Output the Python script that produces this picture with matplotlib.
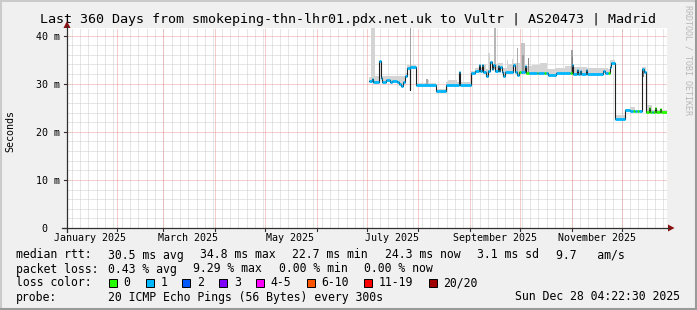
import numpy as np
import pandas as pd
import matplotlib
matplotlib.use("Agg")
import matplotlib.pyplot as plt
import matplotlib.dates as mdates
import matplotlib.transforms as mtransforms
from matplotlib.lines import Line2D
from matplotlib.patches import Polygon, Rectangle

W, H = 697, 310
MONO = "DejaVu Sans Mono"

# ---------------- data ----------------
end_time = pd.Timestamp("2025-12-28 04:22:30")
start_time = end_time - pd.Timedelta(days=360)

# median rtt (ms), each value holds until the next date
median_dates = [
    "2025-07-02 10:00", "2025-07-04 05:00", "2025-07-05 00:00", "2025-07-08 14:00",
    "2025-07-09 10:00", "2025-07-10 05:00", "2025-07-12 14:00", "2025-07-15 00:00",
    "2025-07-16 00:00", "2025-07-19 00:00", "2025-07-20 14:00", "2025-07-21 19:00",
    "2025-07-23 00:00", "2025-07-24 00:00", "2025-07-25 00:00", "2025-07-26 19:00",
    "2025-07-27 05:00", "2025-07-30 10:00", "2025-08-11 14:00", "2025-08-17 14:00",
    "2025-08-25 10:00", "2025-08-26 05:00", "2025-09-01 10:00", "2025-09-04 00:00",
    "2025-09-06 10:00", "2025-09-07 00:00", "2025-09-08 00:00", "2025-09-08 19:00",
    "2025-09-10 14:00", "2025-09-12 00:00", "2025-09-13 05:00", "2025-09-14 05:00",
    "2025-09-15 00:00", "2025-09-15 19:00", "2025-09-17 19:00", "2025-09-18 14:00",
    "2025-09-19 05:00", "2025-09-20 00:00", "2025-09-21 00:00", "2025-09-22 00:00",
    "2025-09-27 00:00", "2025-09-27 19:00", "2025-09-29 00:00", "2025-09-30 05:00",
    "2025-09-30 14:00", "2025-10-01 12:00", "2025-10-04 00:00", "2025-10-04 19:00",
    "2025-10-06 12:00", "2025-10-11 00:00", "2025-10-12 00:00", "2025-10-15 12:00",
    "2025-10-16 12:00", "2025-10-18 00:00", "2025-10-22 14:00", "2025-10-31 00:00",
    "2025-11-01 00:00", "2025-11-02 00:00", "2025-11-04 00:00", "2025-11-04 14:00",
    "2025-11-06 00:00", "2025-11-06 19:00", "2025-11-09 14:00", "2025-11-10 10:00",
    "2025-11-19 12:00", "2025-11-20 00:00", "2025-11-21 00:00", "2025-11-22 18:00",
    "2025-11-24 00:00", "2025-11-24 19:00", "2025-11-27 05:00", "2025-12-03 00:00",
    "2025-12-06 00:00", "2025-12-08 00:00", "2025-12-09 00:00", "2025-12-10 00:00",
    "2025-12-11 12:00", "2025-12-13 00:00", "2025-12-14 14:00", "2025-12-15 10:00",
    "2025-12-17 05:00", "2025-12-17 19:00", "2025-12-19 00:00", "2025-12-20 00:00",
    "2025-12-21 00:00", "2025-12-21 14:00", "2025-12-24 00:00", "2025-12-24 14:00",
]
median_ms = [
    30.6, 31.0, 30.3, 34.8,
    31.2, 30.3, 30.7, 30.4,
    30.6, 30.3, 29.9, 29.5,
    30.3, 31.5, 33.2, 28.6,
    33.4, 29.8, 28.4, 29.8,
    32.5, 29.8, 32.2, 32.6,
    33.9, 32.7, 33.8, 32.5,
    31.7, 32.6, 34.5, 33.0,
    33.8, 32.6, 33.6, 32.6,
    33.5, 32.5, 31.7, 32.4,
    33.9, 32.4, 31.9, 32.4,
    32.4, 32.4, 33.7, 32.3,
    32.3, 32.3, 32.3, 32.3,
    32.3, 31.9, 32.2, 32.2,
    33.8, 32.1, 32.8, 32.1,
    32.6, 32.1, 32.8, 32.1,
    32.3, 32.6, 32.3, 32.3,
    33.5, 34.3, 22.7, 24.5,
    24.3, 24.3, 24.3, 24.3,
    24.3, 33.0, 32.4, 24.2,
    25.0, 24.2, 24.2, 24.2,
    24.9, 24.2, 24.8, 24.2,
]
# lost pings (of 20) for each step
loss_pings = [
    1, 1, 1, 1,
    1, 1, 1, 1,
    1, 1, 1, 1,
    1, 1, 1, 1,
    1, 1, 1, 1,
    1, 1, 1, 1,
    1, 1, 1, 1,
    1, 1, 1, 1,
    1, 1, 1, 1,
    1, 1, 1, 1,
    1, 1, 1, 1,
    0, 1, 1, 0,
    1, 0, 1, 0,
    1, 1, 1, 0,
    1, 1, 1, 1,
    1, 1, 1, 1,
    0, 1, 1, 0,
    1, 1, 1, 1,
    1, 0, 1, 0,
    1, 1, 1, 0,
    0, 0, 1, 0,
    0, 0, 0, 0,
]
data_end = "2025-12-28 04:00"

# upper edge of the smoke (ms)
smoke_dates = [
    "2025-07-02 10:00", "2025-07-03 14:00", "2025-07-05 19:00", "2025-07-24 00:00",
    "2025-07-25 00:00", "2025-07-30 10:00", "2025-08-05 12:00", "2025-08-07 12:00",
    "2025-08-11 14:00", "2025-08-17 14:00", "2025-08-19 00:00", "2025-08-24 00:00",
    "2025-09-01 10:00", "2025-09-04 00:00", "2025-09-08 00:00", "2025-09-10 12:00",
    "2025-09-12 00:00", "2025-09-13 00:00", "2025-09-14 12:00", "2025-09-18 00:00",
    "2025-09-21 00:00", "2025-09-23 00:00", "2025-09-24 00:00", "2025-09-26 00:00",
    "2025-09-27 00:00", "2025-09-29 00:00", "2025-09-30 00:00", "2025-10-04 00:00",
    "2025-10-08 00:00", "2025-10-13 00:00", "2025-10-17 00:00", "2025-10-22 00:00",
    "2025-10-28 00:00", "2025-11-02 00:00", "2025-11-10 00:00", "2025-11-23 00:00",
    "2025-11-24 00:00", "2025-11-27 05:00", "2025-12-03 00:00", "2025-12-06 00:00",
    "2025-12-09 00:00", "2025-12-13 00:00", "2025-12-15 10:00", "2025-12-16 00:00",
    "2025-12-19 00:00",
]
smoke_top_ms = [
    31.4, 41.6, 31.6, 32.2,
    33.9, 30.2, 30.8, 30.2,
    28.8, 30.3, 30.7, 30.3,
    32.7, 33.3, 34.0, 33.0,
    36.3, 34.8, 34.0, 34.4,
    33.2, 34.9, 34.0, 35.2,
    34.2, 37.4, 34.2, 33.7,
    33.9, 34.4, 33.0, 33.2,
    33.6, 33.5, 33.2, 33.0,
    35.0, 23.4, 24.8, 25.2,
    24.6, 33.4, 24.5, 25.5,
    24.5,
]

# darker bursts inside the smoke
spike_start = ["2025-07-26 19:00", "2025-08-05 19:00", "2025-09-15 14:00", "2025-09-29 00:00",
               "2025-10-01 14:00", "2025-10-02 05:00", "2025-10-06 00:00", "2025-10-31 19:00",
               "2025-11-01 05:00", "2025-12-13 00:00"]
spike_end = ["2025-07-27 12:00", "2025-08-06 14:00", "2025-09-16 14:00", "2025-09-29 19:00",
             "2025-10-03 19:00", "2025-10-03 05:00", "2025-10-06 14:00", "2025-11-02 00:00",
             "2025-11-01 19:00", "2025-12-14 14:00"]
spike_top_ms = [41.6, 31.0, 41.6, 37.4, 38.4, 36.0, 35.3, 37.0, 35.5, 33.0]
spike_base_ms = [33.4, 29.8, 33.0, 32.4, 32.4, 32.4, 32.3, 32.1, 32.1, 31.4]
spike_grey = ["#a4a4a4", "#a8a8a8", "#b6b6b6", "#acacac", "#c4c4c4",
              "#9c9c9c", "#858585", "#a0a0a0", "#7c7c7c", "#7a7a7a"]

loss_labels = ["0", "1", "2", "3", "4-5", "6-10", "11-19", "20/20"]
loss_colors = ["#26ff00", "#00b8ff", "#0059ff", "#7e00ff",
               "#ff00ff", "#ff5500", "#ff0000", "#a10000"]

y_major = [0, 10, 20, 30, 40]
y_labels = ["0  ", "10 m", "20 m", "30 m", "40 m"]
x_label_months = ["2025-01-01", "2025-03-01", "2025-05-01", "2025-07-01", "2025-09-01", "2025-11-01"]

stats_rtt = ["30.5 ms avg", "34.8 ms max", "22.7 ms min", "24.3 ms now", "3.1 ms sd", "9.7   am/s"]
stats_loss = ["0.43 % avg", "9.29 % max", "0.00 % min", "0.00 % now"]
probe_text = "20 ICMP Echo Pings (56 Bytes) every 300s"
stamp_text = "Sun Dec 28 04:22:30 2025"
title = "Last 360 Days from smokeping-thn-lhr01.pdx.net.uk to Vultr | AS20473 | Madrid"

# ---------------- figure ----------------
fig = plt.figure(figsize=(W / 100, H / 100), dpi=100)
fig.patch.set_facecolor("#f0f0f0")


def fx(x):
    return x / W


def fy(y):
    return 1 - y / H


# 3d-ish border like rrdtool
fig.add_artist(Rectangle((0, 0), 1, 1, transform=fig.transFigure, fill=False,
                         ec="#cbcbcb", lw=2.2))
fig.add_artist(Line2D([fx(1), fx(696)], [fy(309), fy(309)], color="#9a9a9a", lw=1.5))
fig.add_artist(Line2D([fx(696), fx(696)], [fy(1), fy(309)], color="#9a9a9a", lw=1.5))

ax = fig.add_axes([fx(67), fy(228), 600 / W, 200 / H])
ax.set_facecolor("white")
for s in ax.spines.values():
    s.set_visible(False)
ax.set_xticks([])
ax.set_yticks([])

t0 = mdates.date2num(start_time)
t1 = mdates.date2num(end_time)
ymax = 200 / 4.81
ax.set_xlim(t0, t1)
ax.set_ylim(0, ymax)

# grid (dotted, rrdtool style)
dot = (0, (1, 1))
grid_kw = dict(lw=0.72, ls=dot)
for v in np.arange(2, ymax, 2):
    if v % 10:
        ax.axhline(v, color="#cccccc", zorder=0, **grid_kw)
minor_days = pd.date_range("2025-01-05", end_time, freq="5D")
for d in mdates.date2num(minor_days):
    ax.axvline(d, color="#cccccc", zorder=0, **grid_kw)
for v in y_major[1:]:
    ax.axhline(v, color="#eb9a9a", zorder=0.5, **grid_kw)
month_starts = mdates.date2num(pd.date_range("2025-02-01", end_time, freq="MS"))
for d in month_starts:
    ax.axvline(d, color="#eb9a9a", zorder=0.5, **grid_kw)

# smoke
t_med = mdates.date2num(pd.to_datetime(median_dates + [data_end]))
med = np.array(median_ms)
t_smoke = mdates.date2num(pd.to_datetime(smoke_dates))
grid = np.union1d(t_med, t_smoke)
grid = grid[(grid >= t_med[0]) & (grid <= t_med[-1])]
med_at = med[np.clip(np.searchsorted(t_med[:-1], grid, side="right") - 1, 0, None)]
top_at = np.array(smoke_top_ms)[np.clip(np.searchsorted(t_smoke, grid, side="right") - 1, 0, None)]
ax.fill_between(grid, med_at, np.maximum(top_at, med_at), step="post",
                color="#d4d4d4", lw=0, zorder=1)

sp0 = mdates.date2num(pd.to_datetime(spike_start))
sp1 = mdates.date2num(pd.to_datetime(spike_end))
ax.bar(sp0, np.array(spike_top_ms) - np.array(spike_base_ms), bottom=spike_base_ms,
       width=sp1 - sp0, align="edge", color=spike_grey, lw=0, zorder=1.5)

# median line + loss colour band
ax.step(t_med, np.append(med, med[-1]), where="post", color="#202020", lw=0.8, zorder=2)
loss = np.array(loss_pings)
for lvl in np.unique(loss):
    m = loss == lvl
    ax.hlines(med[m], t_med[:-1][m], t_med[1:][m], colors=loss_colors[lvl],
              lw=2.0, capstyle="butt", zorder=3)

# axes lines, ticks and arrows
axis_c = "#303030"
arrow_c = "#8b1010"
fig.add_artist(Line2D([fx(62), fx(669)], [fy(228), fy(228)], color=axis_c, lw=0.9))
fig.add_artist(Line2D([fx(67), fx(67)], [fy(232), fy(26)], color=axis_c, lw=0.9))
fig.add_artist(Polygon([[fx(668), fy(224.5)], [fx(674.5), fy(228)], [fx(668), fy(231.5)]],
                       closed=True, transform=fig.transFigure, color=arrow_c, lw=0))
fig.add_artist(Polygon([[fx(63.5), fy(28)], [fx(67), fy(21)], [fx(70.5), fy(28)]],
                       closed=True, transform=fig.transFigure, color=arrow_c, lw=0))

ytrans = mtransforms.blended_transform_factory(fig.transFigure, ax.transData)
xtrans = mtransforms.blended_transform_factory(ax.transData, fig.transFigure)
for v, lab in zip(y_major, y_labels):
    fig.add_artist(Line2D([fx(64), fx(67)], [v, v], transform=ytrans, color=axis_c, lw=0.8))
    fig.text(fx(60), v, lab, transform=ytrans, ha="right", va="center_baseline",
             family=MONO, fontsize=7.2, color="#000000")
for d in month_starts:
    fig.add_artist(Line2D([d, d], [fy(228), fy(231)], transform=xtrans, color=axis_c, lw=0.8))
for m in x_label_months:
    ts = pd.Timestamp(m)
    xc = mdates.date2num(ts + pd.Timedelta(days=15))
    fig.text(xc, fy(241), ts.strftime("%B %Y"), transform=xtrans, ha="center",
             va="baseline", family=MONO, fontsize=7.2)

# y axis title
fig.text(fx(10), fy(131), "Seconds", rotation=90, ha="center", va="center",
         family=MONO, fontsize=7.2)

# title
fig.text(fx(348.5), fy(23), title, ha="center", va="baseline", family=MONO, fontsize=9.6)

# watermark
fig.text(fx(688), fy(60), "RRDTOOL / TOBI OETIKER", rotation=270, ha="center",
         va="center", family=MONO, fontsize=6.0, color="#b8b8b8")

# legend rows: items are laid out in a monospace font with a fixed gap
LFS = 8.3
CH = 6.95      # character width in px
X_COL = 107.6  # start of the value column


def legend_row(y, head, items, gap=2.3):
    fig.text(fx(16), fy(y), head, family=MONO, fontsize=LFS, va="baseline")
    xp = X_COL
    for s in items:
        fig.text(fx(xp), fy(y), s, family=MONO, fontsize=LFS, va="baseline")
        xp += (len(s) + gap) * CH


legend_row(258.5, "median rtt:", stats_rtt)
legend_row(272.5, "packet loss:", stats_loss)

fig.text(fx(16), fy(286.5), "loss color:", family=MONO, fontsize=LFS, va="baseline")
xp = 109
for lab, col in zip(loss_labels, loss_colors):
    fig.add_artist(Rectangle((fx(xp), fy(287)), 8 / W, 8 / H, transform=fig.transFigure,
                             facecolor=col, edgecolor="#000000", lw=0.7))
    fig.text(fx(xp + 14.5), fy(286.5), lab, family=MONO, fontsize=LFS, va="baseline")
    xp += 14.5 + (len(lab) + 2.2) * CH

fig.text(fx(16), fy(300.5), "probe:", family=MONO, fontsize=LFS, va="baseline")
fig.text(fx(X_COL), fy(300.5), probe_text, family=MONO, fontsize=LFS, va="baseline")
fig.text(fx(680), fy(300.5), stamp_text, family=MONO, fontsize=LFS, va="baseline", ha="right")

fig.savefig("out.png", dpi=100, facecolor=fig.get_facecolor())
